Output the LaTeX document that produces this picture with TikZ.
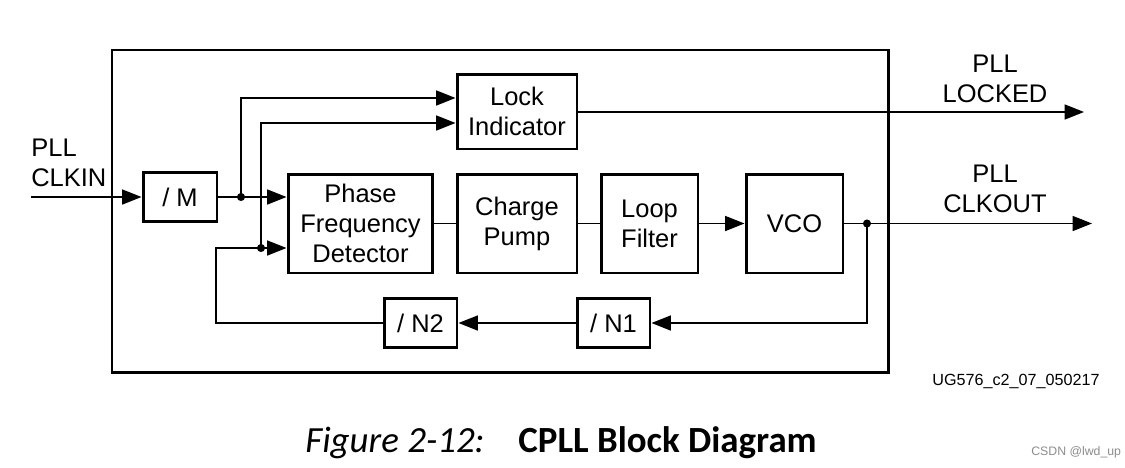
\documentclass[tikz,border=0pt]{standalone}
\usepackage{fontspec}
\setmainfont{Liberation Sans}
\newfontfamily\capfont{Carlito}
\usetikzlibrary{arrows.meta}
\begin{document}
\begin{tikzpicture}[x=0.02cm,y=-0.02cm,
  blk/.style={draw,line width=1.7pt,inner sep=0pt,align=center,font=\fontsize{14.5}{17}\selectfont},
  ln/.style={line width=0.85pt},
  arr/.style={ln,-{Triangle[length=11pt,width=8.5pt]}},
  dot/.style={circle,fill,inner sep=0pt,minimum size=4.6pt},
  lbl/.style={inner sep=0pt,align=center,font=\fontsize{14.5}{17}\selectfont}]
\useasboundingbox (0,0) rectangle (1125,467);
% outer box
\draw[line width=1.7pt] (112,50) rectangle (888,372);
% blocks
\node[blk,minimum width=1.48cm,minimum height=0.98cm] (m) at (180,197) {/ M};
\node[blk,minimum width=2.4cm,minimum height=1.5cm] (li) at (517,111.5) {Lock\\Indicator};
\node[blk,minimum width=2.9cm,minimum height=1.98cm] (pfd) at (360.5,223.5) {Phase\\Frequency\\Detector};
\node[blk,minimum width=2.4cm,minimum height=1.98cm] (cp) at (517,223.5) {Charge\\Pump};
\node[blk,minimum width=1.94cm,minimum height=1.98cm] (lf) at (649.5,223.5) {Loop\\Filter};
\node[blk,minimum width=1.94cm,minimum height=1.98cm] (vco) at (794.5,223.5) {VCO};
\node[blk,minimum width=1.46cm,minimum height=0.98cm] (n1) at (613.5,323) {/ N1};
\node[blk,minimum width=1.46cm,minimum height=0.98cm] (n2) at (420.5,323) {/ N2};
% coordinates
\coordinate (in) at (31,197);
\coordinate (d1) at (241,197);
\coordinate (d2) at (261,248);
\coordinate (d3) at (867,223.5);
\coordinate (y98) at (0,98);
\coordinate (y123) at (0,123);
\coordinate (top2) at (261,123);
\coordinate (fbl) at (216,323);
\coordinate (outlock) at (1084,112);
\coordinate (outclk) at (1092,223.5);
% connectors
\draw[arr] (in) -- (m.west);
\draw[ln] (m.east) -- (d1);
\draw[arr] (d1) -- (d1 -| pfd.west);
\draw[arr] (d1) |- (li.west |- y98);
\draw[arr] (d2) |- (li.west |- y123);
\draw[ln] (d2) -- (top2);
\draw[arr] (d2) -- (d2 -| pfd.west);
\draw[ln] (n2.west) -- (fbl) |- (d2);
\draw[ln] (pfd.east) -- (cp.west);
\draw[ln] (cp.east) -- (lf.west);
\draw[arr] (lf.east) -- (vco.west);
\draw[arr] (vco.east) -- (outclk);
\draw[arr] (d3) |- (n1.east);
\draw[arr] (n1.west) -- (n2.east);
\draw[arr] (li.east |- outlock) -- (outlock);
\node[dot] at (d1) {};
\node[dot] at (d2) {};
\node[dot] at (d3) {};
% labels
\node[lbl,align=left,anchor=west] (lclkin) at (31,163) {PLL\\CLKIN};
\node[lbl] (llock) at (995,79) {PLL\\LOCKED};
\node[lbl] (lclkout) at (995,189) {PLL\\CLKOUT};
\node[inner sep=0pt,anchor=west,font=\fontsize{9.2}{11}\selectfont] (ug) at (932,381) {UG576\_c2\_07\_050217};
\node[inner sep=0pt,anchor=west,font=\capfont\itshape\fontsize{21}{25}\selectfont] (fig) at (305,443) {Figure 2-12:};
\node[inner sep=0pt,anchor=west,font=\capfont\bfseries\fontsize{21}{25}\selectfont] (cap) at (518,443) {CPLL Block Diagram};
\node[inner sep=0pt,anchor=west,text=black!45,font=\fontsize{7}{8}\selectfont] (csdn) at (1031,452) {CSDN @lwd\_up};
\end{tikzpicture}
\end{document}
